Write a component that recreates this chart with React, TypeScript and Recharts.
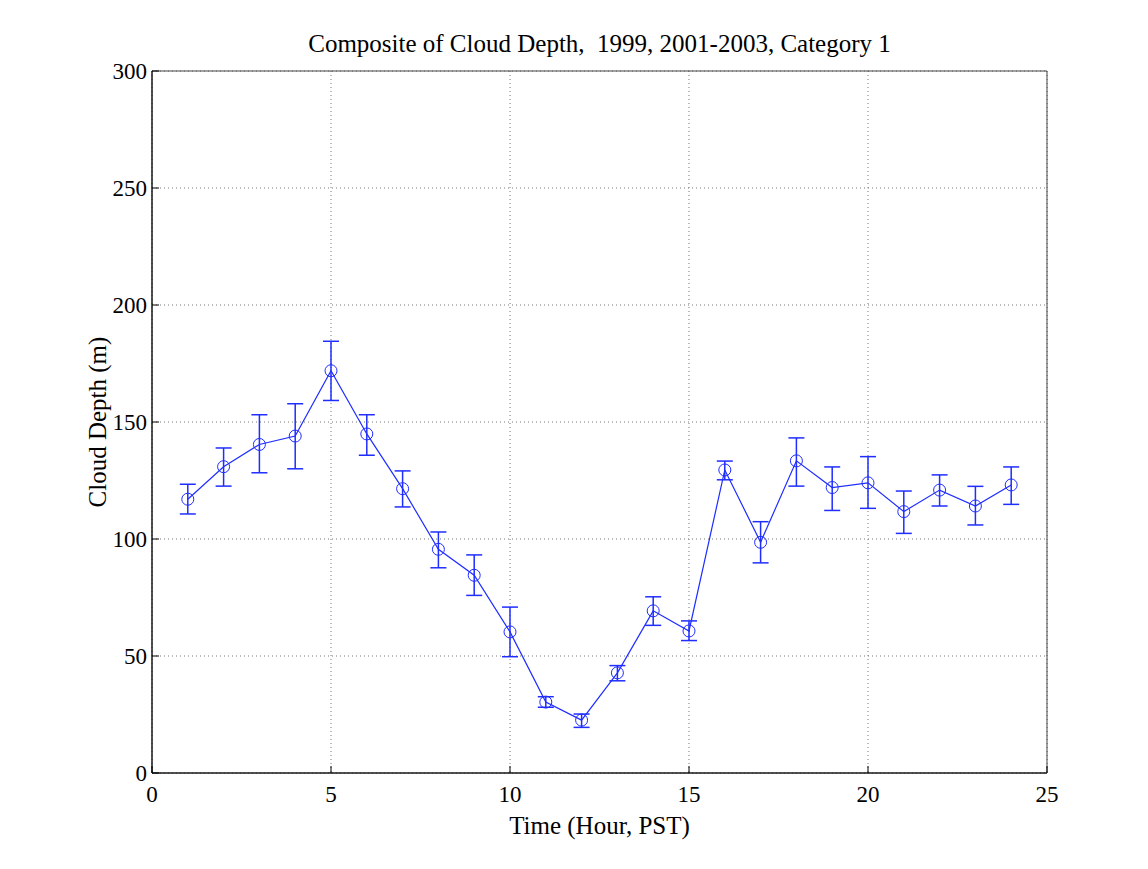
import {
  ComposedChart,
  Line,
  ErrorBar,
  XAxis,
  YAxis,
  CartesianGrid,
  ReferenceArea,
} from "recharts";

const hours = [1, 2, 3, 4, 5, 6, 7, 8, 9, 10, 11, 12, 13, 14, 15, 16, 17, 18, 19, 20, 21, 22, 23, 24];
const depth = [117, 130.9, 140.4, 144, 171.9, 144.9, 121.5, 95.6, 84.5, 60.3, 30.3, 22.6, 42.8, 69.3, 60.7, 129.5, 98.6, 133.4, 122, 124, 111.7, 120.9, 114.1, 123.1];
const upper = [123.4, 138.9, 153.1, 157.8, 184.5, 153.1, 129.1, 103, 93.2, 70.9, 32.6, 25.2, 45.9, 75.3, 65, 133.3, 107.4, 143.2, 130.8, 135.2, 120.5, 127.4, 122.5, 130.8];
const lower = [110.7, 122.6, 128.3, 130, 159.2, 135.8, 113.7, 87.7, 75.9, 49.7, 28.1, 19.5, 39.4, 63.1, 56.6, 125.3, 89.8, 122.6, 112.2, 113.1, 102.4, 114.1, 106, 114.8];
const xTicks = [0, 5, 10, 15, 20, 25];
const yTicks = [0, 50, 100, 150, 200, 250, 300];

const data = hours.map((h, i) => ({
  hour: h,
  depth: depth[i],
  err: [depth[i] - lower[i], upper[i] - depth[i]],
}));

const BLUE = "#1f2dff";
const serif = "'Liberation Serif', 'Times New Roman', serif";
const tickFont = { fontFamily: serif, fontSize: 23, fill: "#000" };
const labelFont = { fontFamily: serif, fontSize: 25, fill: "#000" };

export default function App() {
  return (
    <div style={{ position: "absolute", left: 0, top: 0, width: 1148, height: 869, background: "#fff" }}>
      <div
        style={{
          position: "absolute",
          left: 152,
          width: 895,
          top: 29,
          textAlign: "center",
          fontFamily: serif,
          fontSize: 25,
          lineHeight: "30px",
          color: "#000",
          whiteSpace: "pre",
        }}
      >
        {"Composite of Cloud Depth,  1999, 2001-2003, Category 1"}
      </div>
      <ComposedChart
        width={1148}
        height={869}
        data={data}
        margin={{ top: 71, right: 101, bottom: 0, left: 0 }}
      >
        <CartesianGrid xAxisId="b" yAxisId="l" stroke="#777" strokeDasharray="1 3" />
        <XAxis
          xAxisId="b"
          dataKey="hour"
          type="number"
          domain={[0, 25]}
          ticks={xTicks}
          height={96}
          tickSize={-7}
          tickMargin={20}
          tick={tickFont}
          stroke="#000"
          label={{ value: "Time (Hour, PST)", position: "insideBottom", offset: 35, style: labelFont }}
        />
        <XAxis
          xAxisId="t"
          orientation="top"
          dataKey="hour"
          type="number"
          domain={[0, 25]}
          ticks={xTicks}
          height={0}
          tickSize={-7}
          tickFormatter={() => ""}
          stroke="#555"
        />
        <YAxis
          yAxisId="l"
          type="number"
          domain={[0, 300]}
          ticks={yTicks}
          width={152}
          tickSize={-7}
          tickMargin={12}
          tick={tickFont}
          stroke="#000"
          label={{
            value: "Cloud Depth (m)",
            angle: -90,
            position: "insideLeft",
            offset: 97,
            textAnchor: "middle",
            style: { ...labelFont, textAnchor: "middle" },
          }}
        />
        <YAxis
          yAxisId="r"
          orientation="right"
          type="number"
          domain={[0, 300]}
          ticks={yTicks}
          width={0}
          tickSize={-7}
          tickFormatter={() => ""}
          stroke="#777"
        />
        <ReferenceArea
          xAxisId="b"
          yAxisId="l"
          x1={0}
          x2={25}
          y1={0}
          y2={300}
          fill="none"
          stroke="#444"
          strokeWidth={1}
          ifOverflow="visible"
        />
        <Line
          xAxisId="b"
          yAxisId="l"
          dataKey="depth"
          type="linear"
          stroke={BLUE}
          strokeWidth={1.2}
          dot={{ r: 6, stroke: BLUE, strokeWidth: 1, fill: "none" }}
          activeDot={false}
          isAnimationActive={false}
        >
          <ErrorBar dataKey="err" direction="y" width={8} stroke={BLUE} strokeWidth={1.5} isAnimationActive={false} />
        </Line>
      </ComposedChart>
    </div>
  );
}
